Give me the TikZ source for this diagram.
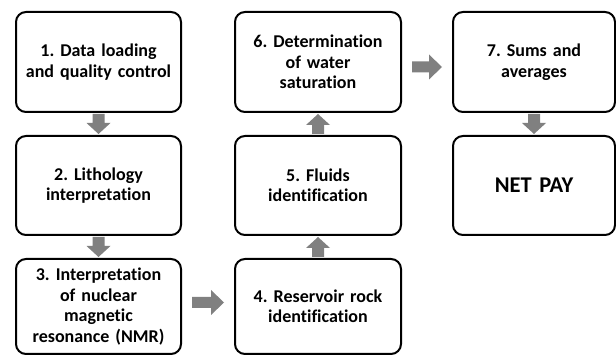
\documentclass[tikz,border=0pt]{standalone}
\usepackage{fontspec}
\setmainfont[Ligatures={NoCommon}]{Carlito}
\usetikzlibrary{calc}
\definecolor{arrgray}{RGB}{128,128,128}
\frenchspacing
\tikzset{
  box/.style={draw=black, line width=2pt, rounded corners=10pt, fill=white,
    minimum width=165pt, minimum height=100pt, align=center, text width=160pt,
    font=\fontsize{18}{20.5}\selectfont\bfseries, inner sep=0pt},
  arr/.style={fill=arrgray, draw=none}
}
\begin{document}
\begin{tikzpicture}[x=1pt,y=-1pt]
\useasboundingbox (0,0) rectangle (616,355);
\node[box] (b1) at (98.5,62) {1. Data loading\\and quality control};
\node[box, minimum height=99pt] (b2) at (98.5,185.5) {2. Lithology\\interpretation};
\node[box, minimum height=95pt] (b3) at (98.5,306.5) {3. Interpretation\\of nuclear\\magnetic\\resonance (NMR)};
\node[box, minimum height=95pt, minimum width=166pt] (b4) at (318,306.5) {4. Reservoir rock\\identification};
\node[box, minimum height=99pt, minimum width=166pt] (b5) at (318,185.5) {5. Fluids\\identification};
\node[box, minimum width=166pt] (b6) at (318,62) {6. Determination\\of water\\saturation};
\node[box, minimum width=162pt] (b7) at (534,62) {7. Sums and\\averages};
\node[box, minimum width=162pt, minimum height=99pt, font=\fontsize{22.5}{26}\selectfont\bfseries] (np) at (534,185.5) {NET PAY};
% vertical down arrows
\foreach \a/\b in {b1/b2, b2/b3, b7/np}{
  \fill[arr] let \p1=(\a.south), \p2=(\b.north) in
    (\x1-6pt,\y1-1pt) -- (\x1+6pt,\y1-1pt) -- (\x1+6pt,\y2+12pt) -- (\x1+12pt,\y2+12pt)
    -- (\x1,\y2+1pt) -- (\x1-12pt,\y2+12pt) -- (\x1-6pt,\y2+12pt) -- cycle;
}
% vertical up arrows
\foreach \a/\b in {b4/b5, b5/b6}{
  \fill[arr] let \p1=(\a.north), \p2=(\b.south) in
    (\x1-6pt,\y1+1pt) -- (\x1+6pt,\y1+1pt) -- (\x1+6pt,\y2-12pt) -- (\x1+12pt,\y2-12pt)
    -- (\x1,\y2-1pt) -- (\x1-12pt,\y2-12pt) -- (\x1-6pt,\y2-12pt) -- cycle;
}
% horizontal arrows
\foreach \a/\b/\dy in {b3/b4/4, b6/b7/-5}{
  \fill[arr] let \p1=(\a.east), \p2=(\b.west) in
    (\x1+10pt,\y1-5.5pt+\dy pt) -- (\x1+10pt,\y1+5.5pt+\dy pt) -- (\x2-23pt,\y1+5.5pt+\dy pt)
    -- (\x2-23pt,\y1+12.5pt+\dy pt) -- (\x2-10pt,\y1+\dy pt) -- (\x2-23pt,\y1-12.5pt+\dy pt)
    -- (\x2-23pt,\y1-5.5pt+\dy pt) -- cycle;
}
\end{tikzpicture}
\end{document}
